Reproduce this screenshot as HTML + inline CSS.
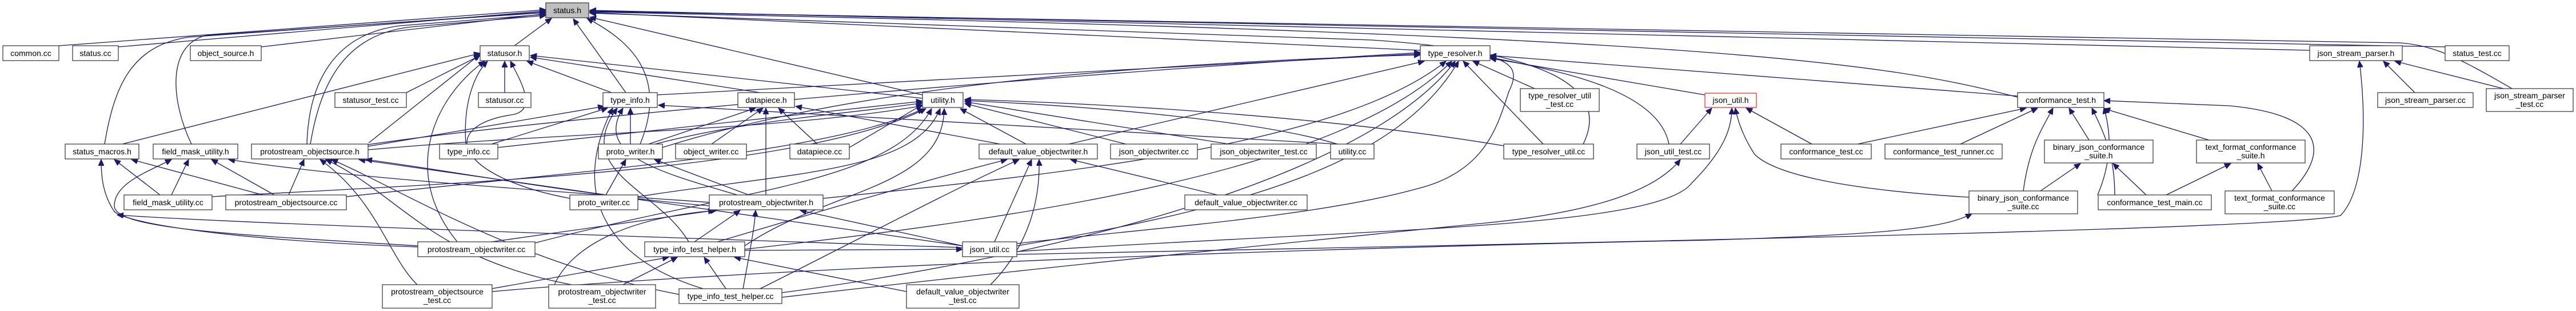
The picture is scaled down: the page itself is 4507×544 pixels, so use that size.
<!DOCTYPE html>
<html><head><meta charset="utf-8">
<style>
html,body{margin:0;padding:0;background:#fff;}
svg{display:block;}
text{font-family:"Liberation Sans",sans-serif;font-size:14px;fill:#000;}
.e{fill:none;stroke:#191970;stroke-width:1.3;}
.n{fill:#fff;stroke:#404040;stroke-width:1.3;}
</style></head>
<body>
<svg width="4507" height="544" viewBox="0 0 4507 544" xmlns="http://www.w3.org/2000/svg">
<defs>
<marker id="a" markerUnits="userSpaceOnUse" markerWidth="12" markerHeight="10" refX="11" refY="5" orient="auto">
<path d="M0,0 L11,5 L0,10 Z" fill="#191970" stroke="#191970"/>
</marker>
</defs>
<g class="e" marker-end="url(#a)">
<!-- to status.h -->
<path d="M103,80 L955,17"/>
<path d="M207,82 L955,19"/>
<path d="M457,82 L955,24"/>
<path d="M183,252 C200,150 230,80 330,65 L955,21"/>
<path d="M335,252 C300,180 290,80 360,62 L955,22"/>
<path d="M537,252 C540,150 580,60 700,45 L955,25"/>
<path d="M543,252 C560,150 600,60 720,47 L955,27"/>
<path d="M900,80 L965,32"/>
<path d="M1095,162 L1003,33"/>
<path d="M1120,252 C1170,130 1100,70 1027,32"/>
<path d="M1614,166 L1032,30"/>
<path d="M2485,88 L1032,22"/>
<path d="M2770,252 C2820,150 2700,90 2400,70 L1032,23"/>
<path d="M4041,88 L1032,18"/>
<path d="M4278,82 L1032,19"/>
<path d="M4395,155 C4300,100 4260,80 4200,75 L1032,20"/>
<path d="M3530,170 C3300,110 3000,60 1032,21"/>
<!-- to statusor.h -->
<path d="M711,162 L840,97"/>
<path d="M883,162 L883,107"/>
<path d="M1070,162 L922,107"/>
<path d="M1330,162 L928,100"/>
<path d="M1614,172 L928,97"/>
<path d="M214,252 L840,93"/>
<path d="M645,250 L840,95"/>
<path d="M815,252 C810,180 830,130 853,107"/>
<path d="M800,423 C700,300 760,170 848,107"/>
<path d="M997,347 C800,310 760,220 900,200 C940,190 910,140 893,107"/>
<!-- to type_info.h -->
<path d="M860,252 L1063,189"/>
<path d="M1103,252 L1103,189"/>
<path d="M644,256 L1057,186"/>
<path d="M1290,341 C1150,300 1040,270 1090,189"/>
<path d="M1205,423 C1150,330 1000,300 1080,189"/>
<path d="M1230,505 C1050,450 1000,330 1072,189"/>
<path d="M2340,252 L1152,184"/>
<!-- to datapiece.h -->
<path d="M1135,252 L1322,189"/>
<path d="M1245,252 L1335,189"/>
<path d="M1340,341 L1340,189"/>
<path d="M1430,252 L1362,189"/>
<path d="M1750,252 L1392,186"/>
<!-- to utility.h -->
<path d="M871,258 L1614,177"/>
<path d="M1135,255 C1300,210 1480,200 1614,180"/>
<path d="M644,262 C1000,230 1350,230 1614,185"/>
<path d="M606,344 C1000,300 1450,270 1616,190"/>
<path d="M371,344 C800,320 1400,300 1620,190"/>
<path d="M936,425 C1300,330 1560,320 1630,190"/>
<path d="M1116,344 C1400,300 1600,300 1645,190"/>
<path d="M1303,430 C1450,330 1650,330 1652,190"/>
<path d="M1486,258 L1614,183"/>
<path d="M1795,252 L1680,190"/>
<path d="M1970,252 L1688,181"/>
<path d="M2150,252 L1688,178"/>
<path d="M2340,252 C2200,210 1900,185 1688,176"/>
<path d="M2631,255 C2300,200 1900,180 1688,174"/>
<!-- to type_resolver.h -->
<path d="M644,253 C1000,200 2000,120 2485,92"/>
<path d="M1150,166 L2485,94"/>
<path d="M1159,258 C1500,150 2000,110 2485,96"/>
<path d="M1870,252 L2492,107"/>
<path d="M1440,347 C1900,300 2350,250 2530,107"/>
<path d="M1303,436 C1800,380 2350,300 2540,107"/>
<path d="M1368,512 C1900,440 2400,300 2546,107"/>
<path d="M1779,430 C2200,360 2450,280 2552,107"/>
<path d="M2700,252 L2560,107"/>
<path d="M2685,155 L2577,107"/>
<path d="M2983,166 L2607,102"/>
<path d="M2920,252 C2900,150 2700,120 2607,100"/>
<path d="M1779,426 C2000,400 2300,380 2480,330 C2600,300 2620,220 2640,160 C2660,120 2640,110 2607,98"/>
<path d="M3530,168 L2607,97"/>
<!-- to json_util.h -->
<path d="M2940,252 L2995,189"/>
<path d="M1779,440 C2400,400 2900,400 2960,320 C3020,260 3030,220 3030,189"/>
<path d="M3170,252 L3055,189"/>
<path d="M3445,345 C3200,330 3100,300 3070,270 C3050,240 3040,210 3036,189"/>
<!-- to conformance_test.h -->
<path d="M3250,252 L3545,189"/>
<path d="M3430,252 L3565,189"/>
<path d="M3540,334 C3550,260 3570,230 3592,189"/>
<path d="M3655,245 L3620,189"/>
<path d="M3700,341 C3700,270 3680,230 3660,189"/>
<path d="M3865,245 L3681,190"/>
<path d="M4010,334 C4080,260 4060,200 3900,185 L3681,176"/>
<path d="M3670,341 C3700,270 3690,220 3681,188"/>
<!-- binary / text format -->
<path d="M3570,334 L3640,286"/>
<path d="M3755,341 L3697,286"/>
<path d="M3790,341 L3903,286"/>
<path d="M3975,334 L3950,286"/>
<!-- json_stream_parser.h -->
<path d="M4225,162 L4170,107"/>
<path d="M4380,155 L4190,107"/>
<path d="M1779,445 C3000,420 4000,400 4095,377 C4140,330 4140,200 4128,107"/>
<!-- status_macros.h -->
<path d="M280,341 L200,279"/>
<path d="M460,341 L230,279"/>
<path d="M731,432 C400,420 220,390 200,370 C180,340 177,310 177,279"/>
<path d="M1684,433 C1000,410 400,390 205,376"/>
<!-- field_mask_utility.h -->
<path d="M300,341 L330,279"/>
<path d="M480,341 L370,279"/>
<path d="M731,430 C400,410 200,400 200,360 C200,320 260,300 300,279"/>
<path d="M1241,354 C900,330 600,310 400,279"/>
<!-- protostream_objectsource.h -->
<path d="M505,341 L532,279"/>
<path d="M730,498 C680,450 660,350 560,279"/>
<path d="M1000,498 C750,450 700,340 570,279"/>
<path d="M1188,515 C900,460 700,330 580,279"/>
<path d="M1684,430 L628,279"/>
<path d="M1241,360 C1000,340 800,300 640,279"/>
<!-- proto_writer.h -->
<path d="M1060,341 L1095,279"/>
<path d="M1310,341 L1145,279"/>
<!-- protostream_objectwriter.h -->
<path d="M860,423 L1250,368"/>
<path d="M970,498 C1000,430 1100,380 1254,368"/>
<path d="M1215,423 L1295,368"/>
<path d="M1300,505 C1310,450 1320,400 1322,368"/>
<path d="M1684,430 L1400,368"/>
<!-- default_value_objectwriter.h -->
<path d="M1255,423 C1400,380 1600,320 1762,279"/>
<path d="M1330,505 C1500,420 1650,340 1783,279"/>
<path d="M1740,423 L1805,279"/>
<path d="M1733,498 C1800,430 1820,350 1818,279"/>
<path d="M2130,341 L1873,279"/>
<!-- type_info_test_helper.h -->
<path d="M860,505 L1170,450"/>
<path d="M1090,498 L1185,450"/>
<path d="M1270,505 L1232,450"/>
<path d="M1586,510 L1285,450"/>
<!-- misc long edges -->
<path d="M1368,520 C1800,470 2300,420 2600,390 C2800,370 2900,330 2940,279"/>
<path d="M1303,438 L1684,436"/>
<path d="M861,510 C1200,480 2000,440 2990,420 C3300,410 3400,400 3450,374"/>
</g>
<!-- nodes -->
<g>
<rect class="n" x="955" y="5" width="75" height="26" style="fill:#bfbfbf"/><text x="992.5" y="23" text-anchor="middle">status.h</text>
<rect class="n" x="5" y="80" width="98" height="26"/><text x="54" y="98" text-anchor="middle">common.cc</text>
<rect class="n" x="127" y="80" width="80" height="26"/><text x="167" y="98" text-anchor="middle">status.cc</text>
<rect class="n" x="333" y="80" width="124" height="26"/><text x="395" y="98" text-anchor="middle">object_source.h</text>
<rect class="n" x="840" y="80" width="86" height="26"/><text x="883" y="98" text-anchor="middle">statusor.h</text>
<rect class="n" x="2485" y="80" width="122" height="26"/><text x="2546" y="98" text-anchor="middle">type_resolver.h</text>
<rect class="n" x="4041" y="80" width="162" height="26"/><text x="4122" y="98" text-anchor="middle">json_stream_parser.h</text>
<rect class="n" x="4278" y="80" width="112" height="26"/><text x="4334" y="98" text-anchor="middle">status_test.cc</text>
<rect class="n" x="586" y="162" width="125" height="26"/><text x="648.5" y="180" text-anchor="middle">statusor_test.cc</text>
<rect class="n" x="837" y="162" width="92" height="26"/><text x="883" y="180" text-anchor="middle">statusor.cc</text>
<rect class="n" x="1055" y="162" width="95" height="26"/><text x="1102.5" y="180" text-anchor="middle">type_info.h</text>
<rect class="n" x="1291" y="162" width="99" height="26"/><text x="1340.5" y="180" text-anchor="middle">datapiece.h</text>
<rect class="n" x="1614" y="162" width="71" height="26"/><text x="1649.5" y="180" text-anchor="middle">utility.h</text>
<rect class="n" x="2660" y="155" width="138" height="40"/><text x="2729" y="172" text-anchor="middle">type_resolver_util</text><text x="2729" y="187" text-anchor="middle">_test.cc</text>
<rect class="n" x="2983" y="163" width="90" height="25" style="stroke:#ff3030"/><text x="3028" y="180" text-anchor="middle">json_util.h</text>
<rect class="n" x="3530" y="162" width="151" height="26"/><text x="3605.5" y="180" text-anchor="middle">conformance_test.h</text>
<rect class="n" x="4160" y="162" width="167" height="26"/><text x="4243.5" y="180" text-anchor="middle">json_stream_parser.cc</text>
<rect class="n" x="4350" y="155" width="152" height="40"/><text x="4426" y="172" text-anchor="middle">json_stream_parser</text><text x="4426" y="187" text-anchor="middle">_test.cc</text>
<rect class="n" x="114" y="252" width="129" height="26"/><text x="178.5" y="270" text-anchor="middle">status_macros.h</text>
<rect class="n" x="268" y="252" width="148" height="26"/><text x="342" y="270" text-anchor="middle">field_mask_utility.h</text>
<rect class="n" x="440" y="252" width="204" height="26"/><text x="542" y="270" text-anchor="middle">protostream_objectsource.h</text>
<rect class="n" x="769" y="252" width="102" height="26"/><text x="820" y="270" text-anchor="middle">type_info.cc</text>
<rect class="n" x="1047" y="252" width="112" height="26"/><text x="1103" y="270" text-anchor="middle">proto_writer.h</text>
<rect class="n" x="1182" y="252" width="124" height="26"/><text x="1244" y="270" text-anchor="middle">object_writer.cc</text>
<rect class="n" x="1382" y="252" width="104" height="26"/><text x="1434" y="270" text-anchor="middle">datapiece.cc</text>
<rect class="n" x="1713" y="252" width="207" height="26"/><text x="1816.5" y="270" text-anchor="middle">default_value_objectwriter.h</text>
<rect class="n" x="1943" y="252" width="152" height="26"/><text x="2019" y="270" text-anchor="middle">json_objectwriter.cc</text>
<rect class="n" x="2119" y="252" width="184" height="26"/><text x="2211" y="270" text-anchor="middle">json_objectwriter_test.cc</text>
<rect class="n" x="2328" y="252" width="76" height="26"/><text x="2366" y="270" text-anchor="middle">utility.cc</text>
<rect class="n" x="2631" y="252" width="157" height="26"/><text x="2709.5" y="270" text-anchor="middle">type_resolver_util.cc</text>
<rect class="n" x="2864" y="252" width="127" height="26"/><text x="2927.5" y="270" text-anchor="middle">json_util_test.cc</text>
<rect class="n" x="3116" y="252" width="158" height="26"/><text x="3195" y="270" text-anchor="middle">conformance_test.cc</text>
<rect class="n" x="3298" y="252" width="205" height="26"/><text x="3400.5" y="270" text-anchor="middle">conformance_test_runner.cc</text>
<rect class="n" x="3577" y="245" width="190" height="40"/><text x="3672" y="262" text-anchor="middle">binary_json_conformance</text><text x="3672" y="277" text-anchor="middle">_suite.h</text>
<rect class="n" x="3843" y="245" width="190" height="40"/><text x="3938" y="262" text-anchor="middle">text_format_conformance</text><text x="3938" y="277" text-anchor="middle">_suite.h</text>
<rect class="n" x="217" y="341" width="154" height="26"/><text x="294" y="359" text-anchor="middle">field_mask_utility.cc</text>
<rect class="n" x="395" y="341" width="211" height="26"/><text x="500.5" y="359" text-anchor="middle">protostream_objectsource.cc</text>
<rect class="n" x="997" y="341" width="119" height="26"/><text x="1056.5" y="359" text-anchor="middle">proto_writer.cc</text>
<rect class="n" x="1241" y="341" width="199" height="26"/><text x="1340.5" y="359" text-anchor="middle">protostream_objectwriter.h</text>
<rect class="n" x="2073" y="341" width="214" height="26"/><text x="2180" y="359" text-anchor="middle">default_value_objectwriter.cc</text>
<rect class="n" x="3445" y="334" width="190" height="40"/><text x="3540" y="351" text-anchor="middle">binary_json_conformance</text><text x="3540" y="366" text-anchor="middle">_suite.cc</text>
<rect class="n" x="3671" y="341" width="198" height="26"/><text x="3770" y="359" text-anchor="middle">conformance_test_main.cc</text>
<rect class="n" x="3893" y="334" width="191" height="40"/><text x="3988.5" y="351" text-anchor="middle">text_format_conformance</text><text x="3988.5" y="366" text-anchor="middle">_suite.cc</text>
<rect class="n" x="731" y="423" width="205" height="26"/><text x="833.5" y="441" text-anchor="middle">protostream_objectwriter.cc</text>
<rect class="n" x="1128" y="423" width="175" height="26"/><text x="1215.5" y="441" text-anchor="middle">type_info_test_helper.h</text>
<rect class="n" x="1684" y="423" width="95" height="26"/><text x="1731.5" y="441" text-anchor="middle">json_util.cc</text>
<rect class="n" x="669" y="498" width="192" height="41"/><text x="765" y="515" text-anchor="middle">protostream_objectsource</text><text x="765" y="530" text-anchor="middle">_test.cc</text>
<rect class="n" x="960" y="498" width="187" height="41"/><text x="1053.5" y="515" text-anchor="middle">protostream_objectwriter</text><text x="1053.5" y="530" text-anchor="middle">_test.cc</text>
<rect class="n" x="1188" y="505" width="180" height="26"/><text x="1278" y="523" text-anchor="middle">type_info_test_helper.cc</text>
<rect class="n" x="1586" y="498" width="197" height="41"/><text x="1684.5" y="515" text-anchor="middle">default_value_objectwriter</text><text x="1684.5" y="530" text-anchor="middle">_test.cc</text>
</g>
</svg>
</body></html>
